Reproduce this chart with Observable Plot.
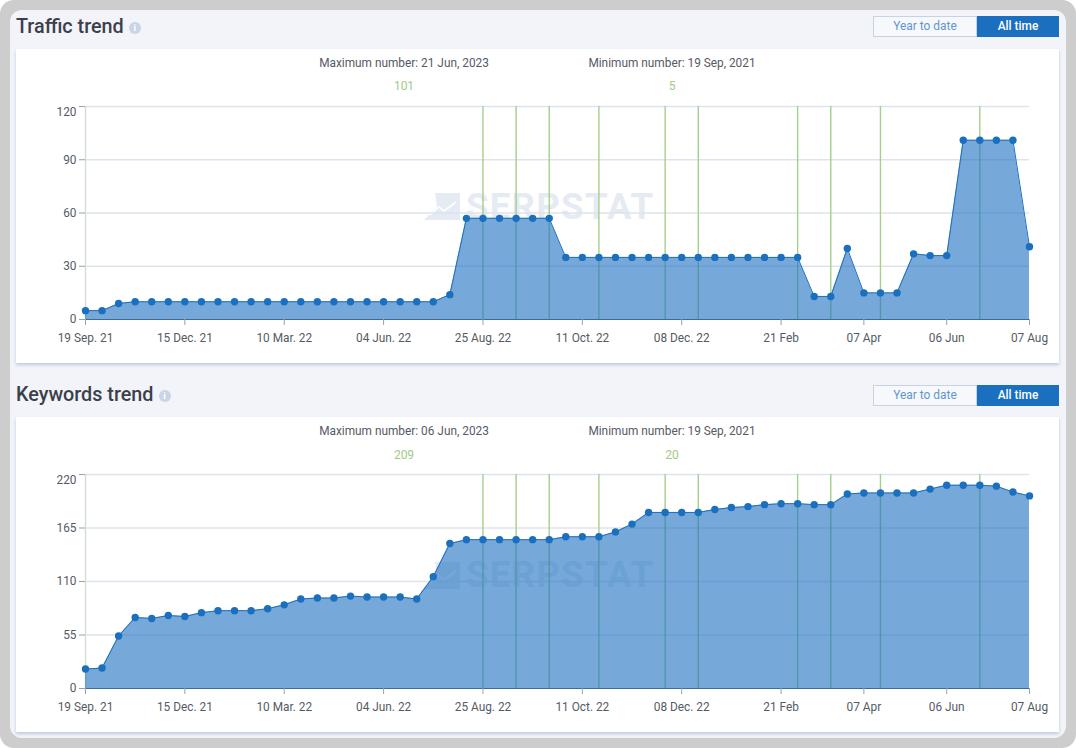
<!DOCTYPE html>
<html><head><meta charset="utf-8">
<script src="https://cdn.jsdelivr.net/npm/d3@7"></script>
<script src="https://cdn.jsdelivr.net/npm/@observablehq/plot@0.6"></script>
<style>
html,body{margin:0;padding:0;width:1076px;height:748px;overflow:hidden;background:#fff;font-family:Roboto,sans-serif}
#frame{position:absolute;left:0;top:0;width:1076px;height:748px;background:#cdcdcd;border-radius:14px}
#panel{position:absolute;left:10px;top:10px;width:1056px;height:728px;background:#f2f4f9;border-radius:12px}
.title{position:absolute;left:16px;font-size:19.8px;font-weight:500;color:#3b3f4c;line-height:24px;white-space:nowrap}
.info{display:inline-block;width:12px;height:12px;border-radius:50%;background:#c9d4e6;color:#fff;font-size:9.5px;font-weight:700;line-height:12px;text-align:center;vertical-align:2px;margin-left:5px}
.card{position:absolute;left:16px;width:1043px;background:#fff;box-shadow:0 2px 3px rgba(120,140,175,.4)}
.btn{position:absolute;height:21px;line-height:19px;font-size:11.9px;text-align:center;box-sizing:border-box}
.b1{left:873px;width:104px;border:1px solid #c5d3e6;color:#5f97cf;background:#f6f8fb}
.b2{left:977px;width:82px;border:1px solid #1b6fbf;background:#1b6fbf;color:#fff;font-weight:500}
.cap{position:absolute;font-size:11.85px;color:#555b66;transform:translateX(-50%);white-space:nowrap;line-height:14px}
.num{color:#a0ca87;font-size:12px}
.wm{position:absolute;left:450px;font-size:36.5px;font-weight:700;letter-spacing:1.3px;color:#e6ebf3;line-height:34px;white-space:nowrap}
.wmi{position:absolute;left:408px;width:36px;height:27px;overflow:visible}
.card>svg:not(.wmi){position:absolute;left:0;top:0}
</style></head><body>
<div id="frame"></div>
<div id="panel"></div>
<div id="root"></div>
<script>
const tickIdx=[0,6,12,18,24,30,36,42,47,52,57];
const tickLabels=["19 Sep. 21","15 Dec. 21","10 Mar. 22","04 Jun. 22","25 Aug. 22","11 Oct. 22","08 Dec. 22","21 Feb","07 Apr","06 Jun","07 Aug"];
const greenIdx=[0,24,26,28,31,35,37,43,45,48,54];
const trafficValues=[5,5,9,10,10,10,10,10,10,10,10,10,10,10,10,10,10,10,10,10,10,10,14,57,57,57,57,57,57,35,35,35,35,35,35,35,35,35,35,35,35,35,35,35,13,13,40,15,15,15,37,36,36,101,101,101,101,41];
const keywordValues=[20,21,54,73,72,75,74,78,80,80,80,82,86,92,93,93,95,94,94,94,92,115,149,153,153,153,153,153,153,156,156,156,161,169,181,181,181,181,184,186,187,189,190,190,189,189,200,201,201,201,201,205,209,209,209,208,202,198];
const trafficTicks=[0,30,60,90,120];
const keywordTicks=[0,55,110,165,220];

function chart(values,ticks,height){
  const data=values.map((v,i)=>({i,v}));
  const top=ticks[ticks.length-1];
  return Plot.plot({
    width:1043,height,marginLeft:69,marginRight:30,marginTop:57,marginBottom:44,
    style:{background:"transparent",fontFamily:"Roboto,sans-serif",fontSize:"11.85px",color:"#555b66"},
    x:{domain:[0,57],label:null},
    y:{domain:[0,top],label:null},
    marks:[
      Plot.ruleY(ticks.slice(1),{stroke:"#dde3ef",strokeWidth:1.4}),
      Plot.ruleX(greenIdx,{stroke:d=>d===0?"#cfe0cf":"#a3d08b",strokeWidth:1.4}),
      Plot.areaY(data,{x:"i",y:"v",fill:"#1b6fbf",fillOpacity:0.6}),
      Plot.lineY(data,{x:"i",y:"v",stroke:"#1b6fbf",strokeWidth:1}),
      Plot.ruleY([0],{stroke:"#3d6a96",strokeWidth:1.2}),
      Plot.dot(data,{x:"i",y:"v",fill:"#1b6fbf",r:3.7}),
      Plot.axisX({ticks:tickIdx,tickFormat:i=>tickLabels[tickIdx.indexOf(i)],tickSize:6,tickPadding:8,label:null,stroke:"#9a9fa8"}),
      Plot.axisY({ticks:ticks.slice(0,-1),tickSize:6,tickPadding:3,label:null,stroke:"#9a9fa8"}),
      Plot.axisY({ticks:[top],tickSize:6,tickPadding:3,dy:5.5,label:null,stroke:"none"}),
      Plot.axisY({ticks:[top],tickSize:6,text:null,label:null,stroke:"#9a9fa8"})
    ]
  });
}
const root=document.getElementById("root");
function section(cfg){
  const t=document.createElement("div");t.className="title";t.style.top=cfg.titleTop+"px";
  t.innerHTML=cfg.title+'<span class="info">i</span>';root.append(t);
  const b1=document.createElement("div");b1.className="btn b1";b1.style.top=cfg.btnTop+"px";b1.textContent="Year to date";root.append(b1);
  const b2=document.createElement("div");b2.className="btn b2";b2.style.top=cfg.btnTop+"px";b2.textContent="All time";root.append(b2);
  const c=document.createElement("div");c.className="card";c.style.top=cfg.cardTop+"px";c.style.height=cfg.h+"px";root.append(c);
  const caps=[[388,cfg.maxText,6.5,""],[388,cfg.maxVal,cfg.numTop,"num"],[656,cfg.minText,6.5,""],[656,cfg.minVal,cfg.numTop,"num"]];
  for(const [x,txt,y,cl] of caps){const d=document.createElement("div");d.className="cap "+cl;d.style.left=x+"px";d.style.top=y+"px";d.textContent=txt;c.append(d);}
  const w=document.createElement("div");w.className="wm";w.style.top=cfg.wmTop+"px";w.textContent="SERPSTAT";c.append(w);
  const ic=document.createElementNS("http://www.w3.org/2000/svg","svg");ic.setAttribute("class","wmi");ic.setAttribute("viewBox","0 0 36 27");
  ic.style.top=(cfg.wmTop+3.5)+"px";
  ic.innerHTML='<path d="M11 0H36V27H0L13 14Z" fill="#e6ebf3"/><path d="M6 22L15 14L20 18L32 9" fill="none" stroke="#fff" stroke-width="1.6"/>';c.append(ic);
  c.append(chart(cfg.values,cfg.ticks,cfg.h));
}
section({title:"Traffic trend",titleTop:15,btnTop:16,cardTop:49,h:314,numTop:30,wmTop:140.5,
  maxText:"Maximum number: 21 Jun, 2023",maxVal:"101",minText:"Minimum number: 19 Sep, 2021",minVal:"5",values:trafficValues,ticks:trafficTicks});
section({title:"Keywords trend",titleTop:383,btnTop:385,cardTop:417,h:315,numTop:31,wmTop:141,
  maxText:"Maximum number: 06 Jun, 2023",maxVal:"209",minText:"Minimum number: 19 Sep, 2021",minVal:"20",values:keywordValues,ticks:keywordTicks});
</script>
</body></html>
